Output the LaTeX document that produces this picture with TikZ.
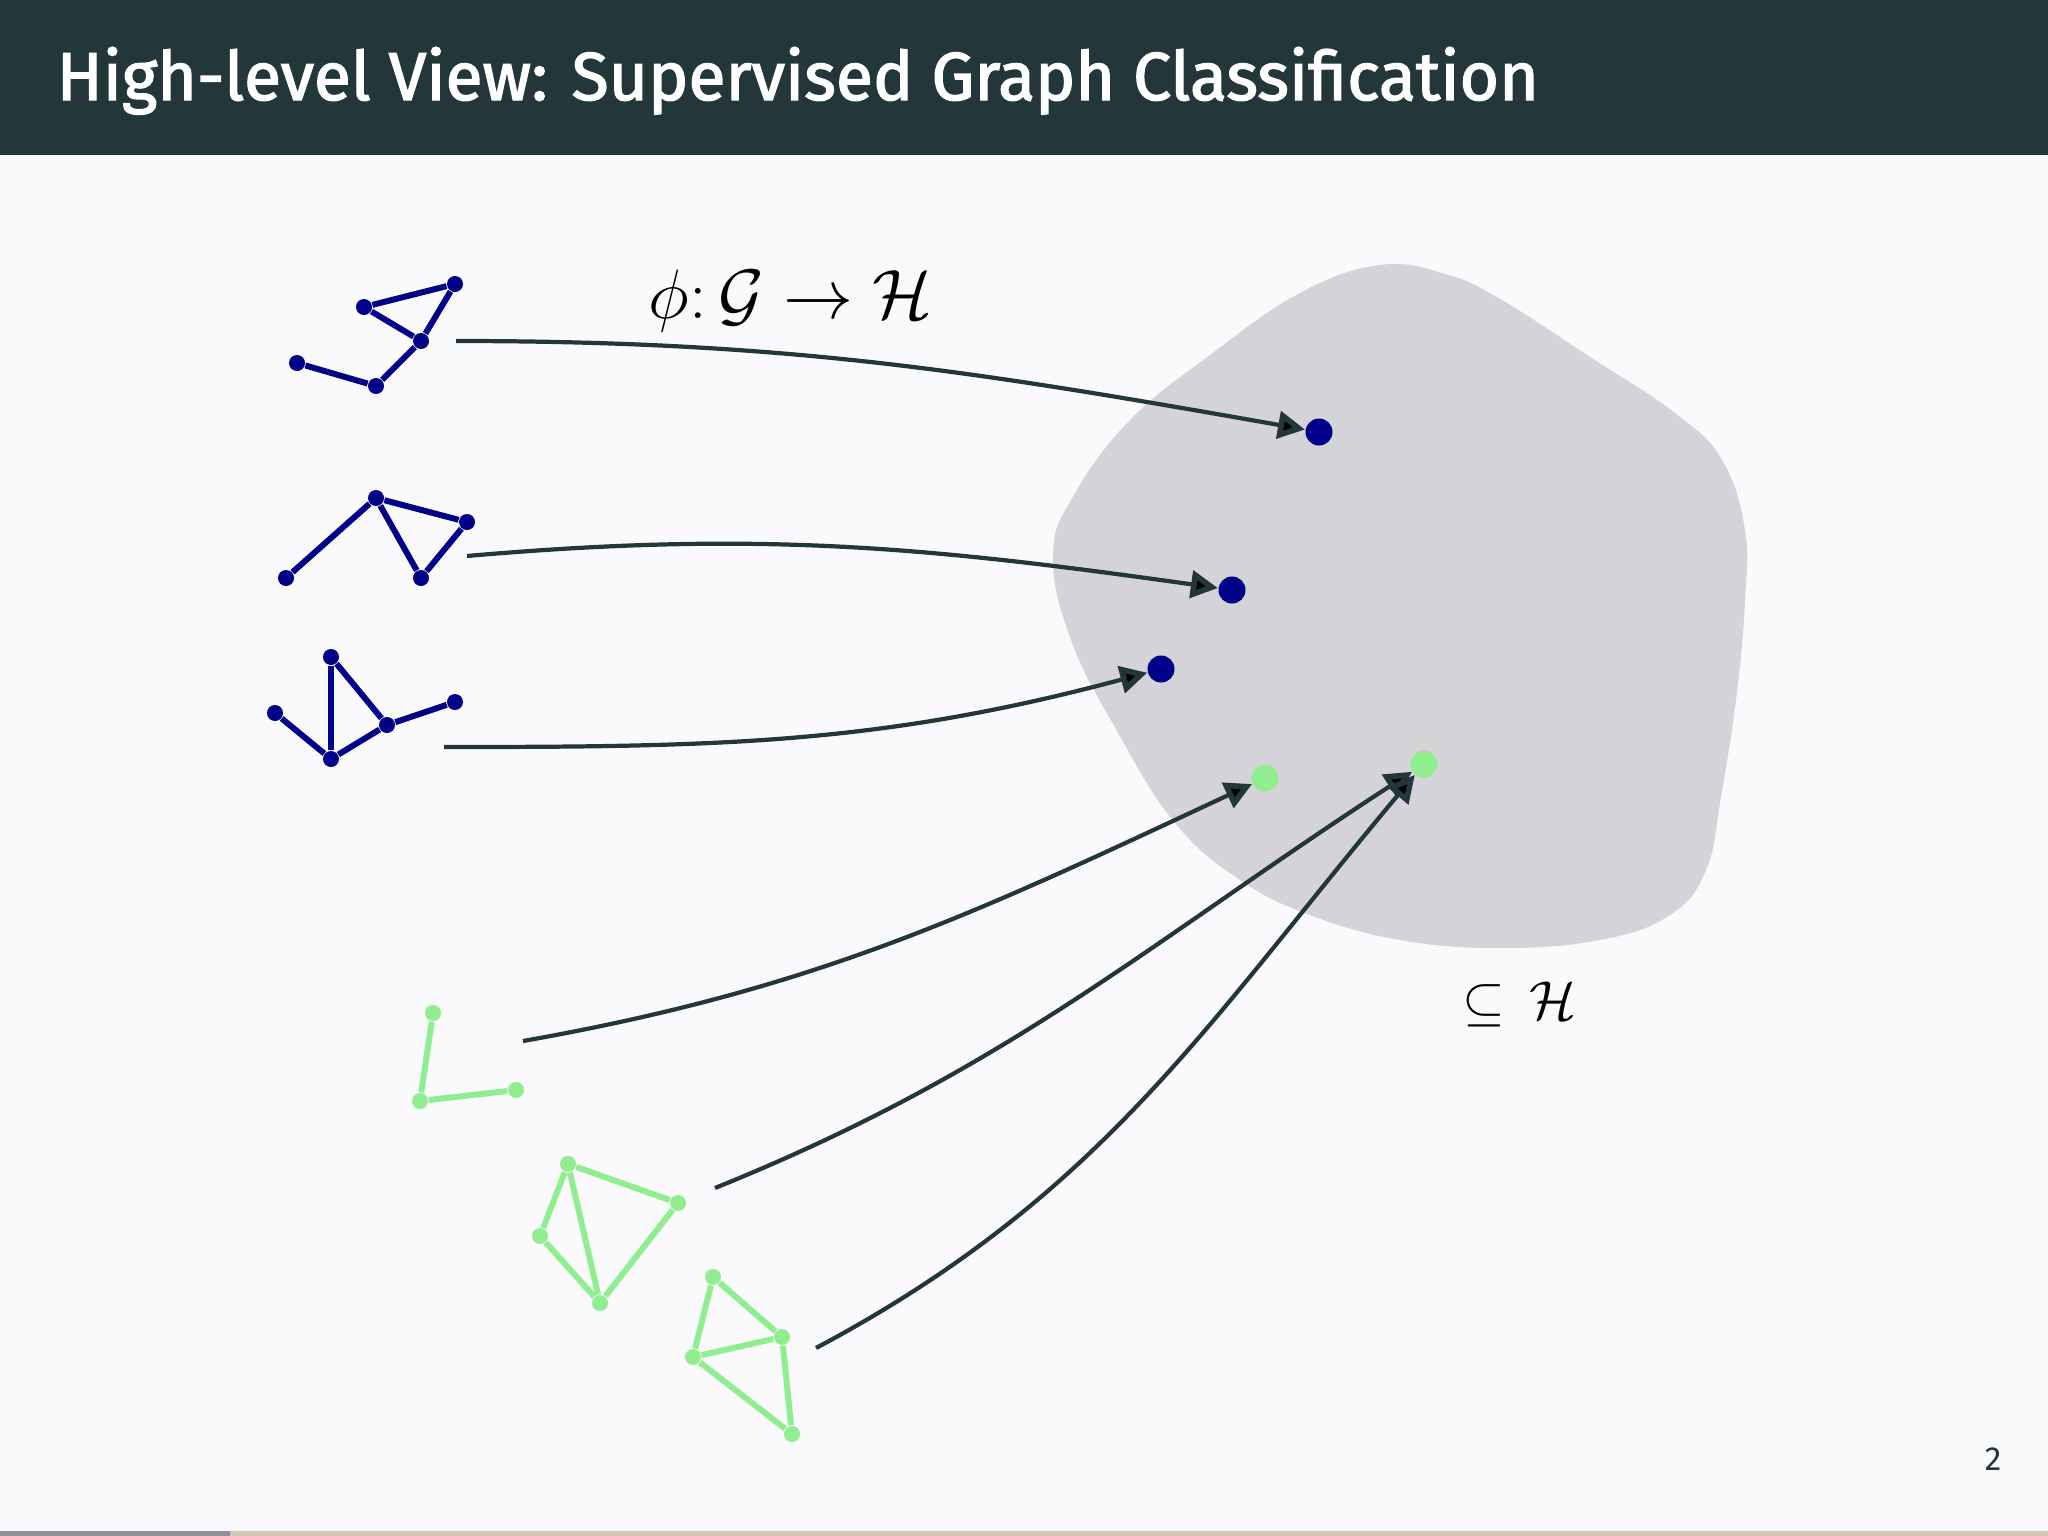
\RequirePackage{fix-cm}
\documentclass[tikz,border=0pt]{standalone}
\usepackage{fontspec}
\newfontfamily\firasans{Fira Sans}
\newfontfamily\firatitle{Fira Sans}[FakeBold=2]
\usepackage{tikz}
\usetikzlibrary{arrows.meta}
\definecolor{mDarkTeal}{HTML}{23373B}
\definecolor{mBg}{HTML}{FAFAFC}
\definecolor{blobgray}{HTML}{D4D3D7}
\definecolor{navyblue}{HTML}{000088}
\definecolor{lightgreen}{HTML}{90EE90}
\definecolor{barbeige}{HTML}{D6C5B3}
\definecolor{bargray}{HTML}{909096}

\begin{document}
\begin{tikzpicture}[x=0.01cm, y=-0.01cm,
    vtx/.style = {circle, fill, inner sep=0pt, minimum size=0.16cm},
    gedge/.style = {line width=1.7pt},
    emb/.style = {circle, fill, inner sep=0pt, minimum size=0.27cm},
    map/.style = {mDarkTeal, line width=1.2pt, -{Triangle[length=0.27cm, width=0.27cm, fill=black, line width=1.6pt]}},
    lbl/.style = {anchor=base west, inner sep=0pt}]
    % slide frame
    \fill[mBg] (0,0) rectangle (2048,1536);
    \fill[mDarkTeal] (0,0) rectangle (2048,155);
    \fill[barbeige] (0,1531) rectangle (2048,1536);
    \fill[bargray] (0,1531) rectangle (230,1536);
    \node [anchor=base west, inner sep=0pt, text=white, font=\firatitle\fontsize{19.3}{23}\selectfont] (title) at (56,100) {High-level View: Supervised Graph Classification};
    \node [anchor=base east, inner sep=0pt, text=mDarkTeal, font=\firasans\fontsize{9.5}{11}\selectfont] (page) at (2002,1470) {2};

    % feature space
    \fill[blobgray] plot[smooth cycle, tension=0.7] coordinates {
        (1380,265) (1445,274) (1500,299) (1590,357) (1675,413) (1722,460)
        (1745,530) (1745,600) (1737,692) (1721,797) (1706,870) (1670,915)
        (1600,940) (1500,948) (1400,940) (1310,915) (1240,880) (1175,823)
        (1117,731) (1071,640) (1053,555) (1074,495) (1130,420) (1210,355)
        (1300,293)};

    % blue graphs
    \node [vtx, navyblue] (a1) at (455,284) {};
    \node [vtx, navyblue] (a2) at (364,307) {};
    \node [vtx, navyblue] (a3) at (421,341) {};
    \node [vtx, navyblue] (a4) at (297,363) {};
    \node [vtx, navyblue] (a5) at (376,386) {};
    \draw[gedge, navyblue] (a2) -- (a1);
    \draw[gedge, navyblue] (a2) -- (a3);
    \draw[gedge, navyblue] (a1) -- (a3);
    \draw[gedge, navyblue] (a3) -- (a5);
    \draw[gedge, navyblue] (a5) -- (a4);

    \node [vtx, navyblue] (b1) at (376,498) {};
    \node [vtx, navyblue] (b2) at (467,522) {};
    \node [vtx, navyblue] (b3) at (421,578) {};
    \node [vtx, navyblue] (b4) at (286,578) {};
    \draw[gedge, navyblue] (b4) -- (b1);
    \draw[gedge, navyblue] (b1) -- (b2);
    \draw[gedge, navyblue] (b1) -- (b3);
    \draw[gedge, navyblue] (b2) -- (b3);

    \node [vtx, navyblue] (c1) at (331,657) {};
    \node [vtx, navyblue] (c2) at (275,713) {};
    \node [vtx, navyblue] (c3) at (331,759) {};
    \node [vtx, navyblue] (c4) at (387,725) {};
    \node [vtx, navyblue] (c5) at (455,702) {};
    \draw[gedge, navyblue] (c1) -- (c3);
    \draw[gedge, navyblue] (c1) -- (c4);
    \draw[gedge, navyblue] (c2) -- (c3);
    \draw[gedge, navyblue] (c3) -- (c4);
    \draw[gedge, navyblue] (c4) -- (c5);

    % green graphs
    \node [vtx, lightgreen] (d1) at (433,1013) {};
    \node [vtx, lightgreen] (d2) at (420,1101) {};
    \node [vtx, lightgreen] (d3) at (516,1090) {};
    \draw[gedge, lightgreen] (d1) -- (d2);
    \draw[gedge, lightgreen] (d2) -- (d3);

    \node [vtx, lightgreen] (e1) at (568,1164) {};
    \node [vtx, lightgreen] (e2) at (540,1236) {};
    \node [vtx, lightgreen] (e3) at (678,1203) {};
    \node [vtx, lightgreen] (e4) at (600,1303) {};
    \draw[gedge, lightgreen] (e1) -- (e2);
    \draw[gedge, lightgreen] (e1) -- (e3);
    \draw[gedge, lightgreen] (e1) -- (e4);
    \draw[gedge, lightgreen] (e2) -- (e4);
    \draw[gedge, lightgreen] (e3) -- (e4);

    \node [vtx, lightgreen] (f1) at (713,1277) {};
    \node [vtx, lightgreen] (f2) at (782,1337) {};
    \node [vtx, lightgreen] (f3) at (693,1357) {};
    \node [vtx, lightgreen] (f4) at (792,1434) {};
    \draw[gedge, lightgreen] (f1) -- (f2);
    \draw[gedge, lightgreen] (f1) -- (f3);
    \draw[gedge, lightgreen] (f3) -- (f2);
    \draw[gedge, lightgreen] (f3) -- (f4);
    \draw[gedge, lightgreen] (f2) -- (f4);

    % embeddings
    \node [emb, navyblue] (ha) at (1319,432) {};
    \node [emb, navyblue] (hb) at (1232,590) {};
    \node [emb, navyblue] (hc) at (1161,669) {};
    \node [emb, lightgreen] (hd) at (1265,778) {};
    \node [emb, lightgreen] (he) at (1424,764) {};

    % arrows
    \coordinate (sa) at (456,341);
    \coordinate (sb) at (467,556);
    \coordinate (sc) at (444,747);
    \coordinate (sd) at (523,1041);
    \coordinate (se) at (715,1188);
    \coordinate (sf) at (816,1348);
    \draw[map] (sa) to[out=0, in=170] (ha);
    \draw[map] (sb) to[out=5, in=172] (hb);
    \draw[map] (sc) to[out=0, in=195] (hc);
    \draw[map] (sd) to[out=10, in=205] (hd);
    \draw[map] (se) to[out=22, in=213] (he);
    \draw[map] (sf) to[out=28, in=230] (he);

    \node [lbl, font=\fontsize{19.9}{24}\selectfont] (phi) at (648,318) {$\phi\colon\mathcal{G}\to\mathcal{H}$};
    \node [lbl, font=\fontsize{15.6}{19}\selectfont] (sub) at (1462,1019) {$\subseteq\,\mathcal{H}$};
\end{tikzpicture}
\end{document}
